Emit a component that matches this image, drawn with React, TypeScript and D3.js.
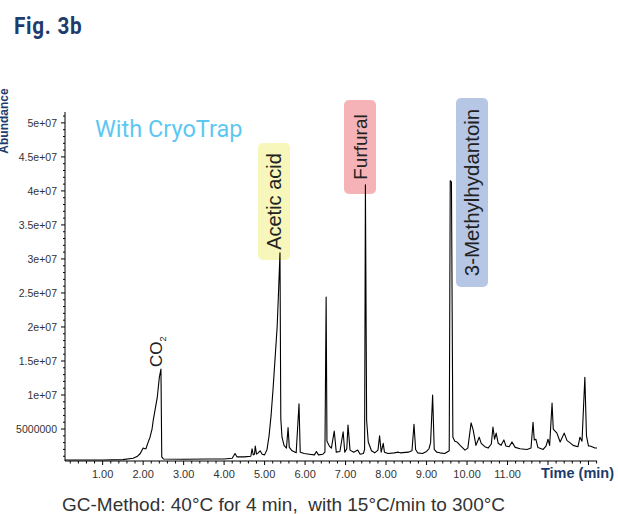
import React from "react";
import * as d3 from "d3";

// retention time (min)
const times = [
  0.07, 0.5, 1.0, 1.5, 1.75, 1.85, 1.93, 2.0, 2.04, 2.07, 2.12, 2.17, 2.22, 2.25, 2.3, 2.35, 2.4, 2.44, 2.46, 2.5,
  3.0, 3.6, 4.0, 4.2, 4.27, 4.32, 4.5, 4.66, 4.69, 4.72, 4.75, 4.77, 4.8, 4.84, 4.89, 4.94, 5.0, 5.06, 5.11, 5.16,
  5.21, 5.26, 5.31, 5.34, 5.38, 5.4, 5.43, 5.48, 5.54, 5.58, 5.61, 5.68, 5.78, 5.85, 5.88, 5.98, 6.1, 6.23, 6.28, 6.33,
  6.44, 6.49, 6.52, 6.54, 6.6, 6.65, 6.72, 6.77, 6.86, 6.94, 6.98, 7.03, 7.06, 7.11, 7.2, 7.3, 7.36, 7.44, 7.47, 7.49,
  7.52, 7.56, 7.64, 7.72, 7.8, 7.84, 7.88, 7.93, 7.96, 8.05, 8.2, 8.3, 8.35, 8.55, 8.64, 8.69, 8.73, 8.78, 8.9, 9.0,
  9.06, 9.1, 9.15, 9.19, 9.25, 9.33, 9.45, 9.56, 9.585, 9.615, 9.65, 9.7, 9.75, 9.83, 9.95, 10.02, 10.1, 10.15, 10.22, 10.3,
  10.35, 10.44, 10.52, 10.6, 10.64, 10.68, 10.72, 10.77, 10.84, 10.91, 10.96, 11.04, 11.11, 11.19, 11.31, 11.48, 11.58, 11.63, 11.66, 11.7,
  11.75, 11.88, 11.95, 12.0, 12.04, 12.1, 12.13, 12.22, 12.3, 12.4, 12.47, 12.54, 12.62, 12.74, 12.79, 12.84, 12.91, 12.95, 13.0, 13.04,
  13.16, 13.21,
];

// abundance (millions of counts)
const abundance = [
  0.45, 0.45, 0.44, 0.5, 0.7, 0.95, 1.4, 2.2, 2.1, 2.1, 3.0, 3.8, 5.0, 6.3, 8.0, 9.7, 12.6, 13.8, 0.9, 0.6,
  0.55, 0.6, 0.6, 0.7, 1.4, 0.9, 0.9, 1.0, 2.1, 1.2, 1.3, 2.5, 1.3, 1.5, 1.8, 1.3, 1.2, 2.0, 4.0, 7.0,
  11.0, 15.5, 20.0, 24.5, 30.9, 6.5, 3.8, 2.6, 2.2, 5.2, 2.3, 1.8, 1.5, 8.7, 1.6, 1.4, 1.3, 1.2, 1.7, 1.2,
  1.3, 1.6, 24.4, 3.2, 2.5, 2.2, 4.7, 1.6, 1.7, 4.6, 1.6, 2.1, 5.6, 1.9, 1.6, 1.9, 1.3, 1.4, 2.0, 40.9,
  6.3, 3.1, 1.8, 1.5, 1.9, 4.0, 1.6, 2.9, 1.6, 1.4, 1.5, 1.6, 1.5, 1.6, 1.8, 5.7, 2.0, 1.5, 1.4, 1.7,
  2.1, 3.0, 10.0, 2.0, 1.6, 1.5, 1.4, 1.8, 41.5, 41.3, 3.8, 3.2, 3.1, 2.6, 1.9, 2.2, 5.9, 4.9, 2.6, 3.8,
  2.9, 2.4, 2.2, 2.8, 5.3, 3.5, 4.4, 2.9, 2.6, 3.4, 2.5, 2.4, 3.1, 2.3, 2.1, 2.0, 2.2, 6.0, 3.4, 3.5,
  2.3, 2.0, 2.5, 3.5, 2.6, 8.8, 5.0, 4.4, 3.1, 4.4, 3.3, 3.0, 2.6, 2.4, 3.8, 3.2, 12.6, 4.0, 2.5, 2.5,
  2.2, 2.2,
];

const yTickValues = [5, 10, 15, 20, 25, 30, 35, 40, 45, 50];
const yTickLabels = ["5000000", "1e+07", "1.5e+07", "2e+07", "2.5e+07", "3e+07", "3.5e+07", "4e+07", "4.5e+07", "5e+07"];
const xTickValues = [1, 2, 3, 4, 5, 6, 7, 8, 9, 10, 11];
const xTickLabels = ["1.00", "2.00", "3.00", "4.00", "5.00", "6.00", "7.00", "8.00", "9.00", "10.00", "11.00"];

const annotationNames = ["Acetic acid", "Furfural", "3-Methylhydantoin"];
const annotationColors = ["#f7f6bb", "#f6b3b7", "#b6c7e6"];

const NAVY = "#1d3c6c";

export default function App() {
  const x = d3.scaleLinear().domain([0.07, 13.21]).range([65, 597]);
  const y = d3.scaleLinear().domain([0.3, 51.6]).range([461, 112]);
  const pts = times.map((t, i) => [t, abundance[i]] as [number, number]);
  const line = d3
    .line<[number, number]>()
    .x((d) => x(d[0]))
    .y((d) => y(d[1]));

  const xMinor = d3.range(0.2, 13.21, 0.2);
  const yMinor = d3.range(1, 51.5, 1);
  const axisY = y(0.3);
  const axisX = x(0.07);

  // annotation boxes (layout)
  const boxes = [
    { x0: 258, y0: 143, w: 32, h: 117, fs: 20 },
    { x0: 344, y0: 100, w: 32, h: 94, fs: 19 },
    { x0: 456, y0: 98, w: 32, h: 189, fs: 20.5 },
  ];

  const font = "'Liberation Sans', Arial, sans-serif";

  return (
    <svg
      width={618}
      height={514}
      style={{ position: "absolute", left: 0, top: 0, background: "#fff" }}
      fontFamily={font}
    >
      <rect x={0} y={0} width={618} height={514} fill="#fff" />
      <text
        transform="translate(14,34) scale(0.9,1)"
        fontFamily="Roboto, sans-serif"
        fontWeight="bold"
        fontSize={23}
        letterSpacing={0.8}
        fill={NAVY}
      >
        Fig. 3b
      </text>

      {/* y axis title, clipped at page edge as in the original figure */}
      <text
        transform={`translate(8,121) rotate(-90)`}
        textAnchor="middle"
        fontWeight="bold"
        fontSize={12}
        fill={NAVY}
      >
        Abundance
      </text>

      {/* annotation boxes */}
      {boxes.map((b, i) => (
        <g key={i}>
          <rect x={b.x0} y={b.y0} width={b.w} height={b.h} rx={5} fill={annotationColors[i]} />
          <text
            transform={`translate(${b.x0 + b.w / 2 + 7},${b.y0 + b.h / 2}) rotate(-90)`}
            textAnchor="middle"
            fontSize={b.fs}
            fill="#222"
          >
            {annotationNames[i]}
          </text>
        </g>
      ))}

      <text x={95} y={137} fontFamily="Roboto, sans-serif" fontSize={23.5} fill="#5cc8f2">
        With CryoTrap
      </text>

      {/* CO2 label */}
      <text transform={`translate(162,367) rotate(-90)`} fontSize={17} fill="#222">
        CO
        <tspan fontSize={9} dy={4}>2</tspan>
      </text>

      {/* axes */}
      <line x1={axisX} x2={axisX} y1={112} y2={axisY} stroke="#000" strokeWidth={1} />
      <line x1={axisX} x2={597} y1={axisY} y2={axisY} stroke="#000" strokeWidth={1} />
      {yMinor.map((v) => (
        <line key={"ym" + v} x1={axisX - (v % 5 === 0 ? 4 : 2)} x2={axisX} y1={y(v)} y2={y(v)} stroke="#000" strokeWidth={1} />
      ))}
      {yTickValues.map((v, i) => (
        <text key={"yl" + v} x={57} y={y(v) + 4} textAnchor="end" fontSize={10.5} fill="#333">
          {yTickLabels[i]}
        </text>
      ))}
      {xMinor.map((t, i) => (
        <line
          key={"xm" + i}
          x1={x(t)}
          x2={x(t)}
          y1={axisY}
          y2={axisY + ((i + 1) % 5 === 0 ? 4 : 2.5)}
          stroke="#000"
          strokeWidth={1}
        />
      ))}
      {xTickValues.map((t, i) => (
        <text key={"xl" + t} x={x(t)} y={478} textAnchor="middle" fontSize={11} fill="#333">
          {xTickLabels[i]}
        </text>
      ))}
      <text x={541} y={478} fontWeight="bold" fontSize={14.5} fill={NAVY}>
        Time (min)
      </text>

      <path d={line(pts) || ""} fill="none" stroke="#000" strokeWidth={1.1} strokeLinejoin="round" />

      <text x={62} y={511} fontSize={19} fill="#333">
        {"GC-Method: 40°C for 4 min,\u00a0 with 15°C/min to 300°C"}
      </text>
    </svg>
  );
}
